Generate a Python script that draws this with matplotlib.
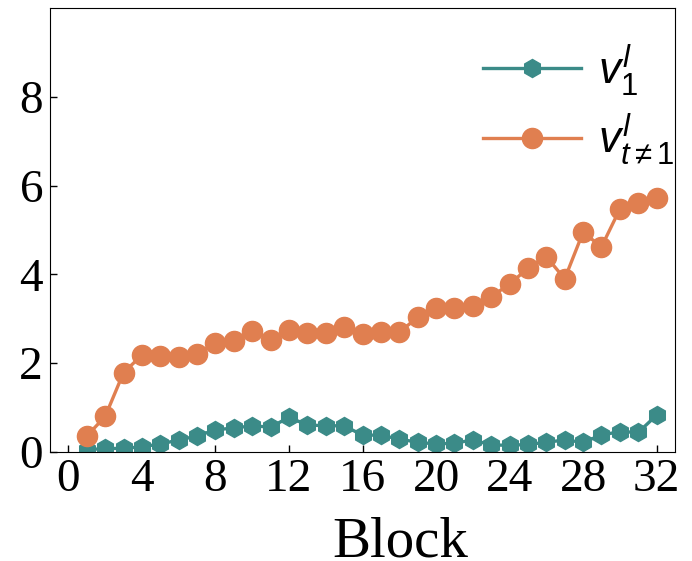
import numpy as np
import matplotlib.pyplot as plt

plt.rcParams['font.family'] = ['Liberation Serif', 'DejaVu Serif']
plt.rcParams['mathtext.fontset'] = 'custom'
plt.rcParams['mathtext.rm'] = 'Liberation Sans'
plt.rcParams['mathtext.it'] = 'Liberation Sans:italic'
plt.rcParams['mathtext.bf'] = 'Liberation Sans:bold'

# per-block values
blocks = np.arange(1, 33)
v1 = [0.05, 0.08, 0.08, 0.12, 0.18, 0.27, 0.36, 0.50, 0.54, 0.59, 0.56, 0.78,
      0.61, 0.59, 0.59, 0.38, 0.38, 0.29, 0.22, 0.18, 0.20, 0.27, 0.16, 0.15,
      0.17, 0.22, 0.27, 0.22, 0.38, 0.46, 0.44, 0.83]
v_rest = [0.36, 0.80, 1.79, 2.18, 2.16, 2.13, 2.21, 2.45, 2.50, 2.73, 2.52, 2.75,
          2.67, 2.69, 2.81, 2.65, 2.71, 2.70, 3.03, 3.25, 3.25, 3.29, 3.50, 3.78,
          4.14, 4.40, 3.90, 4.95, 4.62, 5.47, 5.60, 5.73]

TEAL = "#3b8b88"
ORANGE = "#e07f50"

fig = plt.figure(figsize=(6.92, 5.61), dpi=100)
ax = fig.add_axes([0.0723, 0.1943, 0.9031, 0.7914])

ax.plot(blocks, v1, color=TEAL, marker='h', markersize=13, linewidth=2.4,
        label=r'$v^{l}_{1}$')
ax.plot(blocks, v_rest, color=ORANGE, marker='o', markersize=14.5, linewidth=2.4,
        label=r'$v^{l}_{t\neq1}$')

ax.set_xlim(-1, 33)
ax.set_ylim(0, 10)
ax.set_xticks(np.arange(0, 33, 4))
ax.set_yticks([0, 2, 4, 6, 8])
ax.tick_params(direction='in', labelsize=34, length=5, width=1, pad=5)
ax.set_xlabel('Block', fontsize=41)
ax.xaxis.set_label_coords(0.56, -0.146)

ax.legend(loc='upper left', bbox_to_anchor=(0.664, 0.963), frameon=False,
          fontsize=32, borderaxespad=0.0, handlelength=2.2, labelspacing=0.3,
          handletextpad=0.4)

fig.savefig('out.png', dpi=100)
